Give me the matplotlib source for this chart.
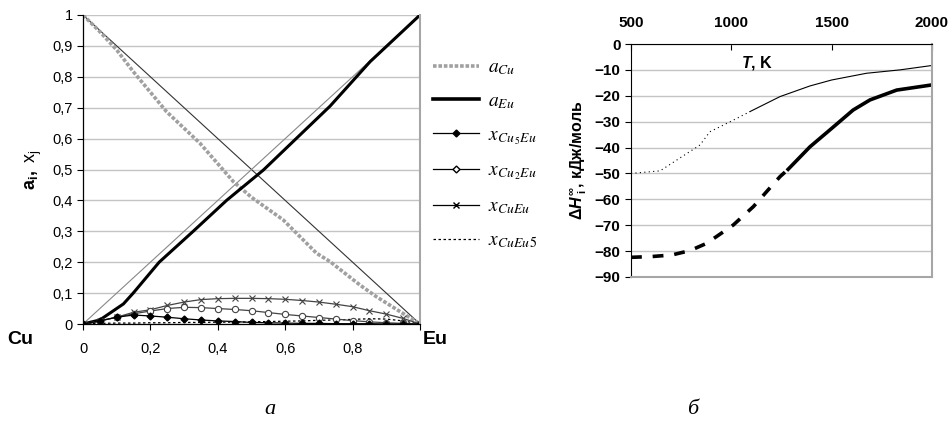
import numpy as np
import matplotlib
matplotlib.use('Agg')
import matplotlib.pyplot as plt
from matplotlib.lines import Line2D
from matplotlib.ticker import FuncFormatter

plt.rcParams['font.family'] = ['Liberation Sans', 'DejaVu Sans']
plt.rcParams['mathtext.fontset'] = 'custom'
plt.rcParams['mathtext.rm'] = 'Liberation Sans'
plt.rcParams['mathtext.bf'] = 'Liberation Sans:bold'
plt.rcParams['mathtext.it'] = 'Liberation Sans:italic:bold'

# --- panel a: activities and mole fractions vs x(Eu) ---
x_ideal = [0, 1]
y_ideal_cu = [1, 0]
y_ideal_eu = [0, 1]

x_aCu = [0, 0.05, 0.1, 0.149, 0.248, 0.347, 0.446, 0.5, 0.594, 0.693, 0.733, 0.822, 0.871, 0.941, 0.99, 1]
a_Cu = [1, 0.946, 0.887, 0.817, 0.687, 0.585, 0.461, 0.41, 0.337, 0.229, 0.202, 0.126, 0.088, 0.040, 0.007, 0]

x_aEu = [0, 0.05, 0.12, 0.149, 0.226, 0.327, 0.426, 0.535, 0.733, 0.852, 1]
a_Eu = [0, 0.013, 0.065, 0.1, 0.2, 0.3, 0.4, 0.498, 0.705, 0.849, 1]

x_j = [0, 0.05, 0.1, 0.15, 0.2, 0.25, 0.3, 0.35, 0.4, 0.45, 0.5,
       0.55, 0.6, 0.65, 0.7, 0.75, 0.8, 0.85, 0.9, 0.95, 1]
x_Cu5Eu = [0, 0.01, 0.022, 0.029, 0.026, 0.022, 0.017, 0.013, 0.01, 0.008, 0.005,
           0.004, 0.003, 0.002, 0.002, 0.001, 0.001, 0.001, 0.0, 0.0, 0]
x_Cu2Eu = [0, 0.01, 0.022, 0.033, 0.042, 0.05, 0.054, 0.053, 0.05, 0.047, 0.043,
           0.037, 0.031, 0.026, 0.021, 0.016, 0.011, 0.007, 0.004, 0.002, 0]
x_CuEu = [0, 0.01, 0.022, 0.038, 0.046, 0.06, 0.071, 0.079, 0.082, 0.083, 0.083,
          0.082, 0.08, 0.076, 0.071, 0.064, 0.056, 0.043, 0.032, 0.018, 0]
x_CuEu5 = [0, 0.002, 0.003, 0.003, 0.004, 0.004, 0.005, 0.005, 0.006, 0.006, 0.007,
           0.008, 0.009, 0.010, 0.012, 0.013, 0.015, 0.017, 0.016, 0.010, 0]

# --- panel b: partial enthalpies vs T ---
T_thin_dot = [500, 645, 844, 893, 1010, 1093]
H_thin_dot = [-50, -49, -39, -33.9, -29.4, -26.1]
T_thin = [1093, 1243, 1392, 1500, 1674, 1840, 2000]
H_thin = [-26.1, -20.3, -16.2, -13.9, -11.3, -10.0, -8.3]
T_thick_dash = [500, 603, 703, 794, 877, 1010, 1110, 1183, 1243, 1283]
H_thick_dash = [-82.4, -82.1, -81.5, -79.8, -77, -69.9, -62.8, -56.4, -51.2, -48.4]
T_thick = [1283, 1392, 1500, 1607, 1691, 1824, 2000]
H_thick = [-48.4, -39.7, -32.6, -25.5, -21.6, -17.8, -15.8]

grid_c = '#c4c4c4'
frame_c = '#a6a6a6'

fig = plt.figure(figsize=(9.51, 4.41), dpi=100)

ax1 = fig.add_axes([83 / 951, 1 - 324 / 441, 337 / 951, 309 / 441])
ax1.plot(x_ideal, y_ideal_cu, color='#333333', lw=0.8)
ax1.plot(x_ideal, y_ideal_eu, color='#888888', lw=0.8)
ax1.plot(x_aCu, a_Cu, color='#a0a0a0', lw=2.6, ls=(0, (1, 0.5)))
ax1.plot(x_aEu, a_Eu, color='black', lw=2.2)
ax1.plot(x_j, x_CuEu5, color='black', lw=0.9, ls=(0, (2, 2)))
ax1.plot(x_j, x_CuEu, color='#444444', lw=0.9, marker='x', ms=5, mew=0.8)
ax1.plot(x_j, x_Cu2Eu, color='#444444', lw=0.9, marker='o', ms=4.5, mfc='white', mew=0.8)
ax1.plot(x_j, x_Cu5Eu, color='black', lw=0.9, marker='D', ms=3.5)

ax1.set_xlim(0, 1)
ax1.set_ylim(0, 1)
ax1.set_yticks(np.arange(0, 1.01, 0.1))
ax1.set_xticks([0, 0.2, 0.4, 0.6, 0.8, 1.0])
comma = FuncFormatter(lambda v, p: ('%g' % round(v, 1)).replace('.', ','))
ax1.yaxis.set_major_formatter(comma)
ax1.set_xticklabels(['0', '0,2', '0,4', '0,6', '0,8', ''])
ax1.tick_params(axis='both', labelsize=10.5, direction='out', length=4, width=0.8)
ax1.tick_params(axis='x', pad=9)
ax1.grid(axis='y', color=grid_c, lw=1)
ax1.set_axisbelow(True)
ax1.spines['top'].set_visible(False)
ax1.spines['right'].set_color(frame_c)
ax1.spines['right'].set_linewidth(1.5)
ax1.spines['left'].set_linewidth(0.9)
ax1.spines['bottom'].set_linewidth(0.9)
ax1.set_ylabel(r'$\mathbf{a_i,}$ $\mathrm{x_j}$', fontsize=13, labelpad=6)

fig.text(7 / 951, 1 - 340 / 441, 'Cu', fontsize=14, fontweight='bold', va='center')
fig.text(423 / 951, 1 - 340 / 441, 'Eu', fontsize=14, fontweight='bold', va='center')

handles = [
    Line2D([], [], color='#a0a0a0', lw=2.6, ls=(0, (1, 0.5))),
    Line2D([], [], color='black', lw=2.6),
    Line2D([], [], color='black', lw=0.9, marker='D', ms=3.5),
    Line2D([], [], color='black', lw=0.9, marker='D', ms=3.5, mfc='white'),
    Line2D([], [], color='black', lw=0.9, marker='x', ms=5),
    Line2D([], [], color='black', lw=0.9, ls=(0, (2, 2))),
]
labels = [r'$a_{Cu}$', r'$a_{Eu}$', r'$x_{Cu_{\,5}Eu}$', r'$x_{Cu_{\,2}Eu}$',
          r'$x_{CuEu}$', r'$x_{CuEu\,5}$']
leg = fig.legend(handles, labels, loc='upper left', bbox_to_anchor=(425 / 951, 1 - 51 / 441),
                 frameon=False, fontsize=14, handlelength=2.4, handletextpad=0.45,
                 labelspacing=0.8, borderaxespad=0)
for t in leg.get_texts():
    t.set_math_fontfamily('stix')

# --- panel b ---
ax2 = fig.add_axes([631 / 951, 1 - 277 / 441, 301 / 951, 233 / 441])
ax2.plot(T_thin_dot, H_thin_dot, color='black', lw=0.8, ls=(0, (1, 3)))
ax2.plot(T_thin, H_thin, color='black', lw=0.8)
ax2.plot(T_thick_dash, H_thick_dash, color='black', lw=2.6, ls=(0, (3, 3)))
ax2.plot(T_thick, H_thick, color='black', lw=2.6)

ax2.set_xlim(500, 2000)
ax2.set_ylim(-90, 0)
ax2.set_xticks([500, 1000, 1500, 2000])
ax2.set_yticks(np.arange(-90, 1, 10))
ax2.xaxis.tick_top()
ax2.tick_params(axis='x', direction='in', length=4, labelsize=11, pad=10)
ax2.tick_params(axis='y', direction='out', length=4, labelsize=11)
for lab in ax2.get_xticklabels() + ax2.get_yticklabels():
    lab.set_fontweight('bold')
ax2.grid(axis='y', color=grid_c, lw=1)
ax2.set_axisbelow(True)
for s in ['right', 'bottom']:
    ax2.spines[s].set_color(frame_c)
    ax2.spines[s].set_linewidth(1.5)
ax2.set_ylabel(r'$\mathbf{\Delta}H^{\mathbf{\infty}}_{\mathbf{\ i}}$, кДж/моль',
               fontsize=11.5, fontweight='bold', labelpad=4)
ax2.text(0.42, 0.92, r'$T$, K', transform=ax2.transAxes, fontsize=11.5,
         fontweight='bold', ha='center', va='center')

fig.text(270 / 951, 1 - 410 / 441, 'а', fontsize=16, style='italic',
         family='Liberation Serif', ha='center', va='center')
fig.text(693 / 951, 1 - 410 / 441, 'б', fontsize=16, style='italic',
         family='Liberation Serif', ha='center', va='center')

plt.savefig('out.png', dpi=100)
plt.close()
